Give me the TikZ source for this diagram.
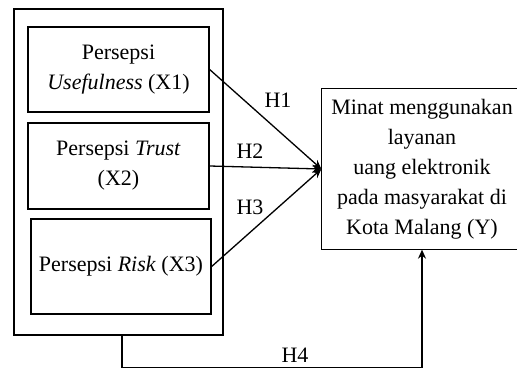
\documentclass[tikz,border=0pt]{standalone}
\usepackage{fontspec}
\setmainfont{Liberation Serif}
\usetikzlibrary{arrows.meta}
\tikzset{
  bingkai/.style={
    draw,
    line width=1.4pt,
    inner sep=0pt
  },
  kotak/.style={
    draw,
    line width=1.3pt,
    align=center,
    inner sep=0pt,
    font=\fontsize{22}{30}\selectfont
  },
  hipo/.style={
    inner sep=0pt,
    font=\fontsize{22}{30}\selectfont
  },
  panah/.style={
    -{Stealth[length=9pt,width=8pt]},
    line width=1.3pt
  }
}

\begin{document}
\begin{tikzpicture}[x=1pt,y=-1pt]
\useasboundingbox (0,0) rectangle (517,369);
\node[bingkai,minimum width=209pt,minimum height=326pt] (luar) at (118.5,172) {};
\node[kotak,minimum width=181pt,minimum height=85pt] (x1) at (118.5,69.5) {Persepsi\\\textit{Usefulness} (X1)};
\node[kotak,minimum width=181pt,minimum height=86pt] (x2) at (118.5,166) {Persepsi \textit{Trust}\\(X2)};
\node[kotak,minimum width=180pt,minimum height=95pt] (x3) at (121,266.5) {Persepsi \textit{Risk} (X3)};
\node[kotak,draw=none,minimum width=200pt,minimum height=160pt] (y) at (422,169) {Minat menggunakan\\layanan\\uang elektronik\\pada masyarakat di\\Kota Malang (Y)};
% kotak Y terpotong di tepi kanan
\draw[line width=1.3pt] (y.north west) rectangle ([xshift=30pt]y.south east);
\draw[panah] (x1.east) -- (y.west);
\draw[panah] (x2.east) -- (y.west);
\draw[panah] (x3.east) -- (y.west);
\draw[panah] ([xshift=3.5pt]luar.south) -- ++(0,32) -| (y.south);
\node[hipo] (h1) at (278,100) {H1};
\node[hipo] (h2) at (250,151) {H2};
\node[hipo] (h3) at (250,207) {H3};
\node[hipo] (h4) at (295,355) {H4};
\end{tikzpicture}
\end{document}
